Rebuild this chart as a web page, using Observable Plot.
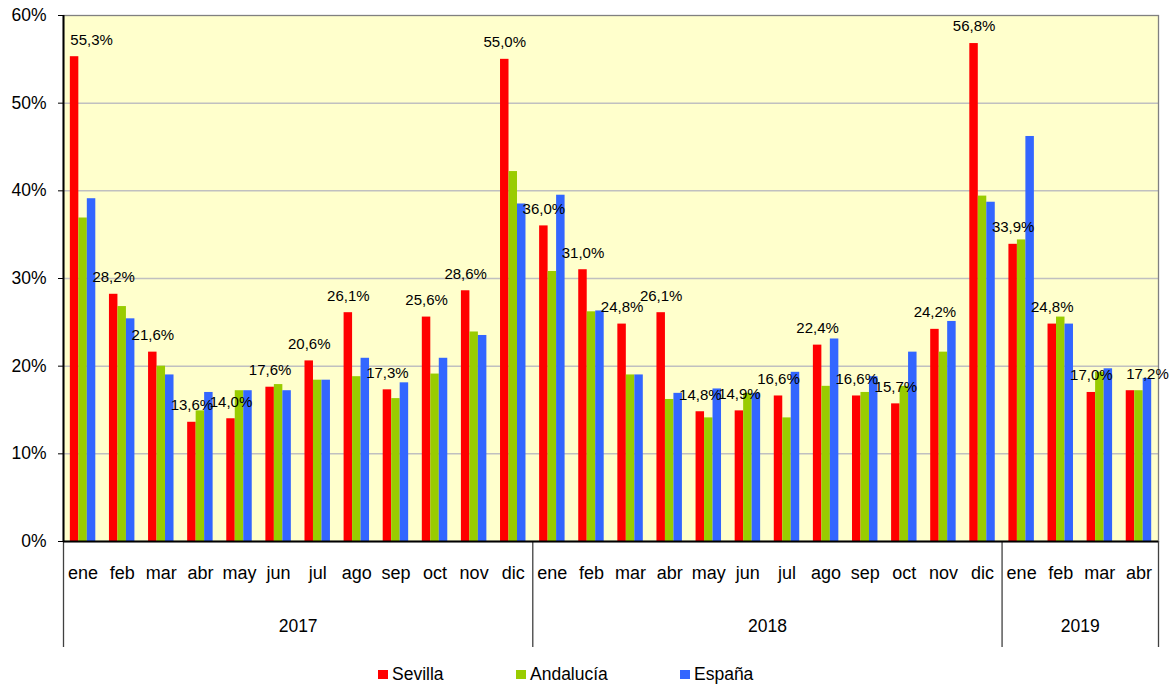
<!DOCTYPE html>
<html>
<head>
<meta charset="utf-8">
<script src="https://cdn.jsdelivr.net/npm/d3@7"></script>
<script src="https://cdn.jsdelivr.net/npm/@observablehq/plot@0.6"></script>
<style>
  body { margin: 0; background: #fff; font-family: "Liberation Sans", Arial, sans-serif; }
  #chart { width: 1170px; }
  .legend { height: 26px; display: flex; align-items: center; padding-left: 378px; font-size: 17.5px; color: #000; box-sizing: border-box; padding-top: 3px; }
  .item { display: flex; align-items: center; }
  .sw { width: 9.5px; height: 9.5px; margin-right: 4.5px; }
</style>
</head>
<body>
<div id="chart"></div>
<script>
// ---- data ----
const months = ["ene","feb","mar","abr","may","jun","jul","ago","sep","oct","nov","dic",
                "ene","feb","mar","abr","may","jun","jul","ago","sep","oct","nov","dic",
                "ene","feb","mar","abr"];
const yearLabels = ["2017", "2018", "2019"];
const monthsPerYear = [12, 12, 4];
const seriesNames = ["Sevilla", "Andalucía", "España"];
const seriesColors = ["#FF0000", "#99CC00", "#3366FF"];
const yTicks = [0, 10, 20, 30, 40, 50, 60];

const sevilla   = [55.3, 28.2, 21.6, 13.6, 14.0, 17.6, 20.6, 26.1, 17.3, 25.6, 28.6, 55.0,
                   36.0, 31.0, 24.8, 26.1, 14.8, 14.9, 16.6, 22.4, 16.6, 15.7, 24.2, 56.8,
                   33.9, 24.8, 17.0, 17.2];
const andalucia = [36.9, 26.8, 20.0, 14.9, 17.2, 17.9, 18.4, 18.8, 16.3, 19.1, 23.9, 42.2,
                   30.8, 26.2, 19.0, 16.2, 14.1, 16.9, 14.1, 17.7, 17.0, 17.7, 21.6, 39.4,
                   34.4, 25.6, 19.3, 17.2];
const espana    = [39.1, 25.4, 19.0, 17.0, 17.2, 17.2, 18.4, 20.9, 18.1, 20.9, 23.5, 38.5,
                   39.5, 26.3, 19.0, 16.9, 17.4, 16.9, 19.3, 23.1, 18.8, 21.6, 25.1, 38.7,
                   46.2, 24.8, 19.7, 18.6];

// ---- derived tables ----
const nMonths = months.length;
const groupPad = 0.175, barW = 0.217;
const seriesValues = [sevilla, andalucia, espana];
const bars = [];
seriesValues.forEach((arr, s) => arr.forEach((v, i) => bars.push({i, s, series: seriesNames[s], v: v / 100})));

let acc = 0;
const years = yearLabels.map((label, k) => {
  const o = {label, start: acc, end: acc + monthsPerYear[k]};
  acc = o.end;
  return o;
});
const boundaries = [0, ...years.map(y => y.end)];

const fmt = v => v.toFixed(1).replace(".", ",") + "%";
const labels = sevilla.map((v, i) => ({i, v: v / 100, text: fmt(v)}));
const edgeIdx = new Set([0, nMonths - 1]);
const labelX = d => d.i + groupPad + barW / 2;

const W = 1170, H = 660, mT = 15, mB = 119;
const innerH = H - mT - mB;

const plot = Plot.plot({
  width: W, height: H,
  marginLeft: 63, marginRight: 12, marginTop: mT, marginBottom: mB,
  style: {fontFamily: '"Liberation Sans", Arial, sans-serif', fontSize: "17.5px", color: "#000", background: "transparent", overflow: "visible"},
  x: {domain: [0, nMonths], axis: null, label: null},
  y: {domain: [0, 0.6], axis: null, label: null},
  color: {domain: seriesNames, range: seriesColors},
  marks: [
    Plot.frame({fill: "#FFFFCC", stroke: "none"}),
    Plot.gridY(yTicks.slice(1, -1).map(t => t / 100), {stroke: "#c0c0c0", strokeOpacity: 1, strokeWidth: 1.5}),
    Plot.frame({stroke: "#808080", strokeWidth: 1.3}),
    Plot.rectY(bars, {
      x1: d => d.i + groupPad + d.s * barW,
      x2: d => d.i + groupPad + (d.s + 1) * barW,
      y1: 0, y2: "v", fill: "series"
    }),
    Plot.ruleX(boundaries, {stroke: "#404040", strokeWidth: 1.3, insetTop: innerH, insetBottom: -106}),
    Plot.ruleY([0], {stroke: "#000", strokeWidth: 2}),
    Plot.ruleX([0], {stroke: "#000", strokeWidth: 2}),
    Plot.axisY(yTicks.map(t => t / 100), {
      tickFormat: v => Math.round(v * 100) + "%",
      tickSize: 5, tickPadding: 12, fontSize: 17.5, label: null, stroke: "#000"
    }),
    Plot.axisX(d3.range(nMonths).map(i => i + 0.5), {
      tickFormat: v => months[Math.floor(v)],
      tickSize: 0, tickPadding: 25, fontSize: 18, label: null
    }),
    Plot.text(years, {x: d => (d.start + d.end) / 2, text: "label", frameAnchor: "bottom", lineAnchor: "middle", dy: 85, fontSize: 17.5}),
    Plot.text(labels.filter(d => !edgeIdx.has(d.i)), {x: labelX, y: "v", text: "text", dy: -17, fontSize: 15, lineAnchor: "middle"}),
    Plot.text(labels.filter(d => edgeIdx.has(d.i)), {x: labelX, y: "v", text: "text", dy: -17, dx: 17, fontSize: 15, lineAnchor: "middle"})
  ]
});

const chart = document.getElementById("chart");
chart.appendChild(plot);

// legend below the SVG
const legend = document.createElement("div");
legend.className = "legend";
const itemWidths = ["138px", "164px", "auto"];
seriesNames.forEach((name, k) => {
  const item = document.createElement("div");
  item.className = "item";
  item.style.width = itemWidths[k];
  const sw = document.createElement("span");
  sw.className = "sw";
  sw.style.background = seriesColors[k];
  const t = document.createElement("span");
  t.textContent = name;
  item.appendChild(sw);
  item.appendChild(t);
  legend.appendChild(item);
});
chart.appendChild(legend);
</script>
</body>
</html>
